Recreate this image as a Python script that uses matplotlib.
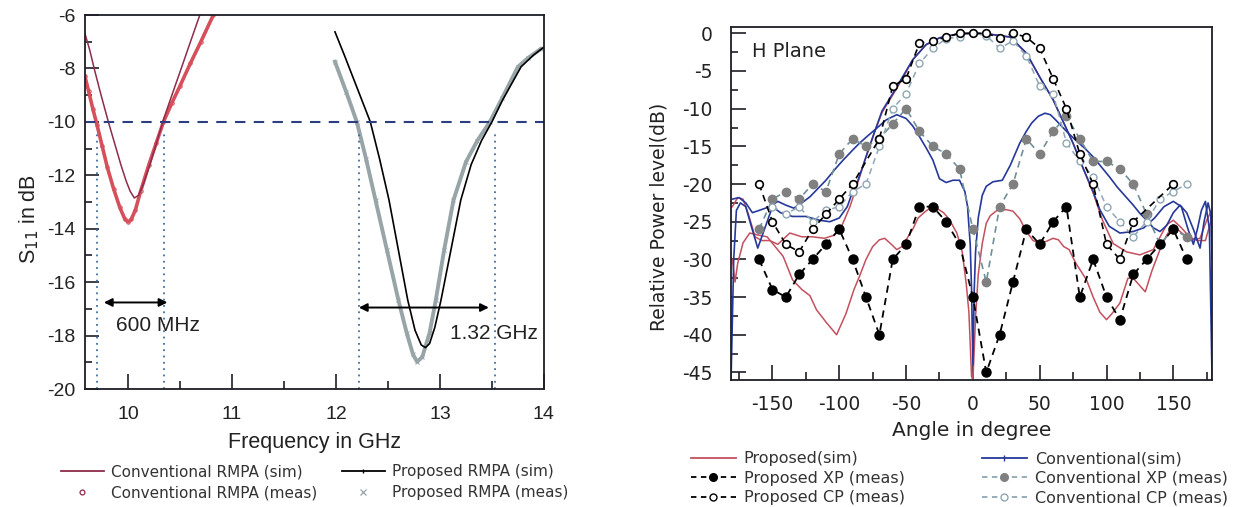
import numpy as np
import matplotlib
matplotlib.use('Agg')
import matplotlib.pyplot as plt
from matplotlib.lines import Line2D
from matplotlib.ticker import MultipleLocator

plt.rcParams['axes.unicode_minus'] = False

# ---------------- left panel : S11 (dB) vs frequency (GHz)
conv_sim_f = [9.585, 9.63, 9.68, 9.74, 9.81, 9.87, 9.93, 9.98, 10.02, 10.06, 10.1, 10.15, 10.21, 10.28, 10.35, 10.43, 10.52, 10.6, 10.69]
conv_sim_db = [-6.7, -7.3, -8.1, -9.0, -10.0, -10.8, -11.6, -12.2, -12.6, -12.85, -12.75, -12.3, -11.6, -10.7, -9.8, -8.9, -7.9, -7.0, -6.0]

conv_meas_f = [9.585, 9.62, 9.66, 9.70, 9.75, 9.80, 9.86, 9.92, 9.97, 10.0, 10.03, 10.07, 10.12, 10.2, 10.27, 10.34, 10.42, 10.5, 10.6, 10.7, 10.82]
conv_meas_db = [-8.3, -8.85, -9.5, -10.1, -10.9, -11.7, -12.5, -13.2, -13.65, -13.75, -13.65, -13.3, -12.6, -11.6, -10.8, -10.0, -9.3, -8.65, -7.8, -7.0, -6.0]

prop_sim_f = [11.99, 12.08, 12.17, 12.25, 12.33, 12.42, 12.51, 12.6, 12.69, 12.76, 12.82, 12.86, 12.9, 12.95, 13.01, 13.1,
              13.2, 13.3, 13.4, 13.5, 13.6, 13.7, 13.78, 13.9, 14.0]
prop_sim_db = [-6.63, -7.5, -8.4, -9.2, -10.0, -11.4, -12.93, -14.8, -16.67, -17.8, -18.35, -18.45, -18.3, -17.7, -16.67, -14.9,
               -12.93, -11.6, -10.7, -10.0, -9.2, -8.5, -7.94, -7.5, -7.2]

prop_meas_f = [11.99, 12.1, 12.2, 12.29, 12.38, 12.49, 12.6, 12.68, 12.74, 12.78, 12.83, 12.9, 12.96, 13.04, 13.13, 13.25,
               13.36, 13.48, 13.6, 13.75, 13.85, 13.97]
prop_meas_db = [-7.75, -8.9, -10.0, -11.4, -12.93, -14.8, -16.67, -17.9, -18.7, -18.98, -18.8, -17.9, -16.67, -14.8, -12.93, -11.5,
                -10.7, -10.0, -9.1, -7.94, -7.6, -7.27]

bw_edges = [9.70, 10.35, 12.22, 13.53]

# ---------------- right panel : H plane pattern
red_cp_a = [-180, -176, -172, -168, -163, -158, -152, -146, -137, -128, -120, -111, -104, -98, -92, -87, -80, -74, -68, -60, -52, -45, -35, -25, -12, 0,
            12, 20, 28, 40, 50, 60, 67, 75, 82, 90, 97, 105, 115, 125, 135, 145, 150, 156, 162, 168, 174, 178, 180]
red_cp_db = [-23, -21.8, -22, -24, -27, -27.5, -27.5, -28, -26.5, -27, -27, -27.2, -26.8, -25.5, -23, -20.3, -16.4, -13.3, -10.5, -8.2, -5.8, -3.5, -1.5, -0.6, -0.1, 0,
             -0.1, -0.3, -0.5, -2.7, -5.8, -8.8, -11.5, -14.6, -17.7, -21.2, -24.8, -27.9, -29, -29.4, -28.7, -25.4, -24.8, -25.8, -27, -27.5, -27.5, -25, -23]

blue_cp_a = [-181, -179, -177, -174, -170, -166, -161, -156, -150, -144, -135, -125, -115, -107, -100, -94, -90, -86, -80, -74, -68, -60, -52, -45, -35, -25, -12, 0,
             12, 20, 28, 40, 50, 60, 67, 75, 82, 90, 95, 102, 110, 120, 128, 136, 143, 150, 156, 161, 165, 168, 171, 174, 177, 179]
blue_cp_db = [-46, -30, -23.5, -22.5, -23, -25.5, -28.5, -26, -23, -23.8, -24.3, -24.3, -24.8, -25, -24.5, -23, -21, -19.5, -16.4, -13.3, -10.3, -8, -5.6, -3.5, -1.5, -0.6, -0.1, 0,
              -0.1, -0.3, -0.5, -2.6, -5.8, -8.8, -11.5, -14.6, -17.7, -21, -23.4, -25.6, -26.5, -26.3, -25.8, -24.5, -23, -22.3, -23, -26, -28, -26, -23.5, -22.3, -26, -46]

blue_xp_a = [-180, -175, -170, -165, -160, -152, -146, -140, -134, -128, -122, -116, -110, -103, -97, -90, -85, -78, -72, -65, -57, -50, -45, -40, -35, -30, -25, -20, -15, -10,
             -6, -4, -2, -1, 0, 1, 2, 4, 7, 10, 15, 22, 28, 35, 40, 44, 49, 54, 58, 62, 70, 77, 84, 90, 96, 102, 108, 115, 120, 125, 130, 135, 140, 145, 150, 155, 160,
             165, 170, 173, 176, 178, 179]
blue_xp_db = [-22, -21.8, -22.5, -23.8, -23.5, -23, -22.3, -22.8, -23.2, -22.5, -21.7, -20.6, -19.5, -18, -16.8, -15.5, -14.6, -13.5, -12.6, -11.5, -10.8, -11.3, -12.3, -13.7, -15.2, -16.8, -19.3, -19.8, -19.5, -19.5,
              -21, -23, -28, -34, -44, -34, -29, -24.5, -21.5, -20.3, -19.7, -19.5, -17.5, -14.6, -13, -11.9, -11, -10.6, -10.8, -11.5, -13, -14.2, -15.3, -16.4, -17.7, -19, -20.4, -21.8, -22.8, -23.9, -24.8, -25.8, -26.3, -25.5, -23.8, -22.8, -23.8,
              -26, -28.5, -25, -22.5, -24, -30]

red_xp_a = [-180, -178, -176, -172, -167, -160, -154, -148, -142, -135, -128, -122, -117, -110, -102, -95, -89, -85, -80, -75, -70, -66, -61, -57, -53, -50, -45, -41, -36, -32, -28, -22, -18, -12, -8, -5, -3, -1, 0,
            1, 2, 4, 7, 10, 13, 18, 25, 30, 35, 40, 45, 50, 55, 60, 64, 68, 72, 77, 85, 90, 95, 100, 104, 110, 116, 120, 125, 129, 134, 140, 145, 150, 155, 160, 165, 170, 175, 180]
red_xp_db = [-30, -33, -30.5, -27.8, -26.5, -26.8, -27, -28.3, -29.6, -32.7, -34, -34.8, -36.7, -38.3, -40, -37.2, -34, -32.3, -30, -28.3, -27.4, -27.2, -28, -28.7, -28.3, -27.4, -26, -24.5, -23.7, -23.2, -23.1, -23.8, -24.6, -26.5, -29, -33.2, -37, -45.5, -46,
             -42, -37.6, -32, -27.9, -25.2, -24.2, -23.5, -23.4, -23.6, -24.6, -26.3, -27.5, -27.9, -27.6, -27.2, -27.4, -28.3, -28.7, -30.5, -32.7, -35, -37, -38, -37.2, -35.8, -32.5, -32.5, -33.5, -34.3, -31.5, -28.7, -26.8, -25.4, -26.3, -27, -27.4, -27.2, -24.8, -23]

meas_a = list(range(-160, 170, 10))
prop_xp = [-30, -34, -35, -32, -30, -28, -26, -30, -35, -40, -30, -28, -23, -23, -25, -28, -35,
           -45, -40, -33, -26, -28, -25, -23, -35, -30, -35, -38, -32, -30, -28, -26, -30]
conv_xp = [-26, -22, -21, -22, -20, -21, -16, -14, -15, -14, -12, -10, -13, -15, -16, -18, -26,
           -33, -23, -20, -14, -16, -13, -11, -14, -17, -17, -18, -20, -24, -28, -26, -27]

prop_cp_a = [-160, -150, -140, -130, -120, -110, -100, -90, -70, -60, -50, -40, -30, -20, -10, 0,
             10, 20, 30, 40, 50, 60, 70, 80, 90, 100, 110, 120, 150]
prop_cp = [-20, -25, -28, -29, -26, -24, -22, -20, -14, -7, -6, -1.3, -1, -0.5, 0, 0,
           0, -0.6, 0, -0.5, -2, -6, -10, -16, -20, -28, -30, -25, -20]

conv_cp_a = [-150, -140, -130, -120, -110, -100, -90, -80, -70, -60, -50, -40, -30, -20, -10, 0,
             10, 20, 30, 40, 50, 60, 70, 80, 90, 100, 110, 120, 130, 140, 150, 160]
conv_cp = [-23, -24, -23, -25, -23.5, -23, -21, -20, -15, -10, -8, -4, -2, -0.7, -0.5, 0,
           -0.3, -2, -1, -3, -7, -8, -14.5, -17, -19, -23, -25, -27, -25, -22, -21, -20]

# colours
c_conv_sim = '#8e2c4a'
c_conv_meas = '#d6505c'
c_prop_meas = '#97a4a8'
c_red = '#c4505e'
c_blue = '#26399a'
c_gray = '#808080'
c_lgray = '#8fa7b4'
c_axis = '#1e1e28'

fig = plt.figure(figsize=(12.55, 5.07), dpi=100)

# ================= left
ax1 = fig.add_axes([0.0677, 0.2327, 0.3657, 0.7377])
lf = 'Liberation Sans'
ax1.plot(conv_meas_f, conv_meas_db, color=c_conv_meas, lw=2.6, marker='o', ms=2.5, mfc='none', mew=0.7)
ax1.plot(conv_sim_f, conv_sim_db, color=c_conv_sim, lw=1.1)
ax1.plot(prop_meas_f, prop_meas_db, color=c_prop_meas, lw=2.8, marker='x', ms=3.5, mew=0.7)
ax1.plot(prop_sim_f, prop_sim_db, color='black', lw=1.2)

ax1.axhline(-10, color='#2b3f80', lw=1.5, ls=(0, (5, 4)))
for xe in bw_edges:
    ax1.plot([xe, xe], [-20, -10.3], color='#3f6f9f', lw=1.3, ls=(0, (1, 2.5)))

ax1.annotate('', xy=(9.767, -16.76), xytext=(10.378, -16.76),
             arrowprops=dict(arrowstyle='<|-|>', color='black', lw=1.4, mutation_scale=12, shrinkA=0, shrinkB=0))
ax1.annotate('', xy=(12.22, -16.95), xytext=(13.47, -16.95),
             arrowprops=dict(arrowstyle='<|-|>', color='black', lw=1.4, mutation_scale=12, shrinkA=0, shrinkB=0))
ax1.text(9.88, -17.63, '600 MHz', fontsize=15, family=lf, color='#222', ha='left', va='center')
ax1.text(13.1, -17.92, '1.32 GHz', fontsize=15, family=lf, color='#222', ha='left', va='center')

ax1.set_xlim(9.585, 14.0)
ax1.set_ylim(-20, -6)
ax1.xaxis.set_major_locator(MultipleLocator(1))
ax1.xaxis.set_minor_locator(MultipleLocator(0.5))
ax1.yaxis.set_major_locator(MultipleLocator(2))
ax1.yaxis.set_minor_locator(MultipleLocator(1))
ax1.tick_params(which='both', direction='in', top=False, right=False, colors=c_axis, width=1.2,
                labelcolor='#222', labelfontfamily=lf)
ax1.tick_params(axis='x', which='major', length=11, pad=12, labelsize=14)
ax1.tick_params(axis='x', which='minor', length=6)
ax1.tick_params(axis='y', which='major', length=10, pad=7, labelsize=14)
ax1.tick_params(axis='y', which='minor', length=5)
for sp in ax1.spines.values():
    sp.set_linewidth(1.3)
    sp.set_color(c_axis)
ax1.set_xlabel('Frequency in GHz', fontsize=15.5, family=lf, color='#222')
ax1.set_ylabel(r'S$_{\it{11}}$ in dB', fontsize=15.5, family=lf, color='#222')
ax1.xaxis.set_label_coords(0.5, -0.115)
ax1.yaxis.set_label_coords(-0.095, 0.455)

leg_font = {'family': 'DejaVu Sans', 'size': 11}
lh1a = [Line2D([], [], color=c_conv_sim, lw=1.3),
        Line2D([], [], ls='none', marker='o', ms=3.5, mfc='none', mec=c_conv_sim, mew=0.9)]
lh1b = [Line2D([], [], color='black', lw=1.3, marker='|', ms=3),
        Line2D([], [], ls='none', marker='x', ms=5, color=c_prop_meas, mew=0.9)]
leg = fig.legend(lh1a, ['Conventional RMPA (sim)', 'Conventional RMPA (meas)'], loc='upper left',
                 bbox_to_anchor=(0.0486, 0.084), frameon=False, prop=leg_font, handlelength=2.8,
                 handletextpad=0.5, labelspacing=0.37, borderpad=0, borderaxespad=0, labelcolor='#333')
fig.legend(lh1b, ['Proposed RMPA (sim)', 'Proposed RMPA (meas)'], loc='upper left',
           bbox_to_anchor=(0.2725, 0.084), frameon=False, prop=leg_font, handlelength=2.8,
           handletextpad=0.5, labelspacing=0.37, borderpad=0, borderaxespad=0, labelcolor='#333')

# ================= right
ax2 = fig.add_axes([0.5825, 0.2505, 0.3833, 0.6957])
rf = 'DejaVu Sans'
ax2.plot(red_xp_a, red_xp_db, color=c_red, lw=1.1)
ax2.plot(red_cp_a, red_cp_db, color=c_red, lw=1.1)
ax2.plot(blue_xp_a, blue_xp_db, color=c_blue, lw=1.2)
ax2.plot(blue_cp_a, blue_cp_db, color=c_blue, lw=1.2)
ax2.plot(meas_a, conv_xp, color='#6f8f9a', lw=1.2, ls=(0, (4, 3)), marker='o', ms=6, mfc=c_gray, mec=c_gray)
ax2.plot(conv_cp_a, conv_cp, color=c_lgray, lw=1.1, ls=(0, (4, 3)), marker='o', ms=5, mfc='white', mec=c_lgray, mew=1.0)
ax2.plot(prop_cp_a, prop_cp, color='black', lw=1.2, ls=(0, (4, 3)), marker='o', ms=5.5, mfc='white', mec='black', mew=1.2)
ax2.plot(meas_a, prop_xp, color='black', lw=1.3, ls=(0, (4, 3)), marker='o', ms=6.5, mfc='black', mec='black')

ax2.text(0.044, 0.93, 'H Plane', transform=ax2.transAxes, fontsize=14, family=rf, color='#222', ha='left', va='center')

ax2.set_xlim(-181, 179)
ax2.set_ylim(-46, 0.8)
ax2.xaxis.set_major_locator(MultipleLocator(50))
ax2.xaxis.set_minor_locator(MultipleLocator(25))
ax2.yaxis.set_major_locator(MultipleLocator(5))
ax2.yaxis.set_minor_locator(MultipleLocator(2.5))
ax2.tick_params(which='both', direction='in', top=False, right=False, colors=c_axis, width=1.2,
                labelcolor='#222', labelfontfamily=rf)
ax2.tick_params(axis='x', which='major', length=11, pad=11, labelsize=13.5)
ax2.tick_params(axis='x', which='minor', length=6)
ax2.tick_params(axis='y', which='major', length=11, pad=13, labelsize=13.5)
ax2.tick_params(axis='y', which='minor', length=5)
for sp in ax2.spines.values():
    sp.set_linewidth(1.3)
    sp.set_color(c_axis)
ax2.set_xlabel('Angle in degree', fontsize=14.5, family=rf, color='#222')
ax2.set_ylabel('Relative Power level(dB)', fontsize=13.5, family=rf, color='#222')
ax2.xaxis.set_label_coords(0.5, -0.115)
ax2.yaxis.set_label_coords(-0.13, 0.463)

dash = (0, (3, 2.5))
lh2a = [Line2D([], [], color=c_red, lw=1.3),
        Line2D([], [], color='black', lw=1.3, ls=dash, marker='o', ms=5.5, mfc='black'),
        Line2D([], [], color='black', lw=1.3, ls=dash, marker='o', ms=5, mfc='white')]
lh2b = [Line2D([], [], color=c_blue, lw=1.3, marker='|', ms=4),
        Line2D([], [], color=c_lgray, lw=1.3, ls=dash, marker='o', ms=5.5, mfc=c_gray, mec=c_gray),
        Line2D([], [], color=c_lgray, lw=1.3, ls=dash, marker='o', ms=5, mfc='white', mec=c_lgray)]
leg_font2 = {'family': rf, 'size': 11.5}
fig.legend(lh2a, ['Proposed(sim)', 'Proposed XP (meas)', 'Proposed CP (meas)'], loc='upper left',
           bbox_to_anchor=(0.5506, 0.110), frameon=False, prop=leg_font2, handlelength=2.8,
           handletextpad=0.5, labelspacing=0.28, borderpad=0, borderaxespad=0, labelcolor='#333')
fig.legend(lh2b, ['Conventional(sim)', 'Conventional XP (meas)', 'Conventional CP (meas)'], loc='upper left',
           bbox_to_anchor=(0.7825, 0.110), frameon=False, prop=leg_font2, handlelength=2.8,
           handletextpad=0.5, labelspacing=0.28, borderpad=0, borderaxespad=0, labelcolor='#333')

fig.savefig('out.png', dpi=100)
